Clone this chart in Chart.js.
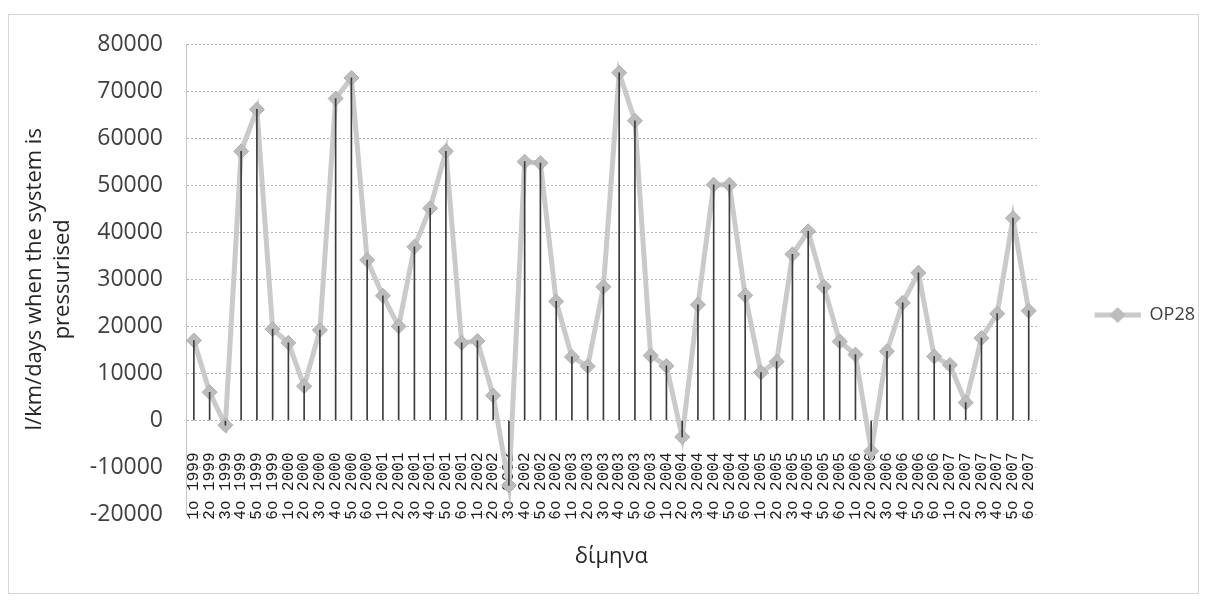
<!DOCTYPE html>
<html>
<head>
<meta charset="utf-8">
<script src="https://cdn.jsdelivr.net/npm/chart.js@4.4.0/dist/chart.umd.min.js"></script>
<style>
  body { margin: 0; background: #fff; }
  #rahmen { position: absolute; left: 8px; top: 14px; width: 1189px; height: 578px; border: 1px solid #d6d6d6; }
  #Diagramm { position: absolute; left: 0; top: 0; }
</style>
</head>
<body>
<div id="rahmen"></div>
<canvas id="Diagramm" width="1205" height="608"></canvas>
<script>
// two-month periods 1999-2007
var years = [1999, 2000, 2001, 2002, 2003, 2004, 2005, 2006, 2007];
var periods = ['1ο', '2ο', '3ο', '4ο', '5ο', '6ο'];

// OP28, l/km/days under pressure, one row per year
var op28_1999 = [17000, 6000, -1000, 57200, 66100, 19400];
var op28_2000 = [16500, 7300, 19200, 68400, 72800, 34100];
var op28_2001 = [26500, 20000, 36900, 45100, 57200, 16500];
var op28_2002 = [16900, 5300, -13800, 55000, 54700, 25300];
var op28_2003 = [13500, 11500, 28400, 73900, 63700, 13800];
var op28_2004 = [11600, -3500, 24600, 50100, 50100, 26600];
var op28_2005 = [10200, 12500, 35300, 40200, 28400, 16800];
var op28_2006 = [14000, -6500, 14700, 25000, 31400, 13600];
var op28_2007 = [11800, 3800, 17500, 22700, 43000, 23300];

var yTicksMin = -20000;
var yTicksMax = 80000;
var yTicksStep = 10000;

var labels = [];
for (var i = 0; i < years.length; i++) {
  for (var j = 0; j < periods.length; j++) {
    labels.push(periods[j] + ' ' + years[i]);
  }
}
var werte = [].concat(op28_1999, op28_2000, op28_2001, op28_2002, op28_2003,
                      op28_2004, op28_2005, op28_2006, op28_2007);

var lineColor = '#cacaca';
var markerColor = '#bcbcbc';

// legend sample: line with a diamond, drawn in the right part of the box
function legendSymbol() {
  var c = document.createElement('canvas');
  c.width = 102;
  c.height = 20;
  var ctx = c.getContext('2d');
  ctx.strokeStyle = lineColor;
  ctx.lineWidth = 5;
  ctx.beginPath();
  ctx.moveTo(56, 10);
  ctx.lineTo(102, 10);
  ctx.stroke();
  ctx.fillStyle = markerColor;
  ctx.beginPath();
  ctx.moveTo(79, 2);
  ctx.lineTo(87, 10);
  ctx.lineTo(79, 18);
  ctx.lineTo(71, 10);
  ctx.closePath();
  ctx.fill();
  return c;
}

const CHART = document.getElementById('Diagramm');

let diagramm = new Chart(CHART, {
  data: {
    labels: labels,
    datasets: [{
      type: 'line',
      label: 'OP28',
      data: werte,
      order: 1,
      borderColor: lineColor,
      borderWidth: 5,
      tension: 0,
      fill: false,
      pointStyle: 'rectRot',
      pointRadius: 7.5,
      pointBackgroundColor: markerColor,
      pointBorderColor: '#b0b0b0',
      pointBorderWidth: 1
    }, {
      // drop lines from each point to the zero line
      type: 'bar',
      label: 'drop',
      data: werte,
      order: 0,
      backgroundColor: '#3c3c3c',
      barThickness: 1
    }]
  },
  options: {
    responsive: false,
    animation: false,
    layout: { padding: { left: 8, top: 44, right: 0, bottom: 22 } },
    scales: {
      x: {
        type: 'category',
        position: { y: 0 },
        offset: true,
        grid: { display: false, drawTicks: false },
        border: { display: false },
        ticks: {
          autoSkip: false,
          maxRotation: 90,
          minRotation: 90,
          padding: 32,
          color: '#1e1e1e',
          font: { family: 'Liberation Mono', size: 16 }
        }
      },
      y: {
        min: yTicksMin,
        max: yTicksMax,
        afterFit: function (scale) { scale.width = 178; },
        ticks: {
          stepSize: yTicksStep,
          padding: 23,
          color: '#404040',
          font: { family: 'Open Sans', size: 23 },
          callback: function (v) { return String(v); }
        },
        grid: { color: '#b4b4b4', drawTicks: false },
        // dotted grid lines
        border: { display: true, color: '#c4c4c4', dash: [2, 2] },
        title: {
          display: true,
          text: ['l/km/days when the system is', 'pressurised'],
          color: '#262626',
          font: { family: 'Open Sans', size: 22, lineHeight: 1.2727 },
          padding: { top: 13, bottom: 0 }
        }
      }
    },
    plugins: {
      legend: {
        position: 'right',
        labels: {
          usePointStyle: true,
          pointStyle: legendSymbol(),
          pointStyleWidth: 102,
          padding: 2,
          color: '#404040',
          font: { family: 'Open Sans', size: 18 },
          filter: function (item) { return item.datasetIndex === 0; }
        }
      },
      title: {
        display: true,
        text: 'δίμηνα',
        position: 'bottom',
        fullSize: false,
        color: '#262626',
        font: { family: 'Open Sans', size: 22, weight: 'normal' },
        padding: { top: 29, bottom: 16 }
      },
      tooltip: { enabled: false }
    }
  }
});
</script>
</body>
</html>
